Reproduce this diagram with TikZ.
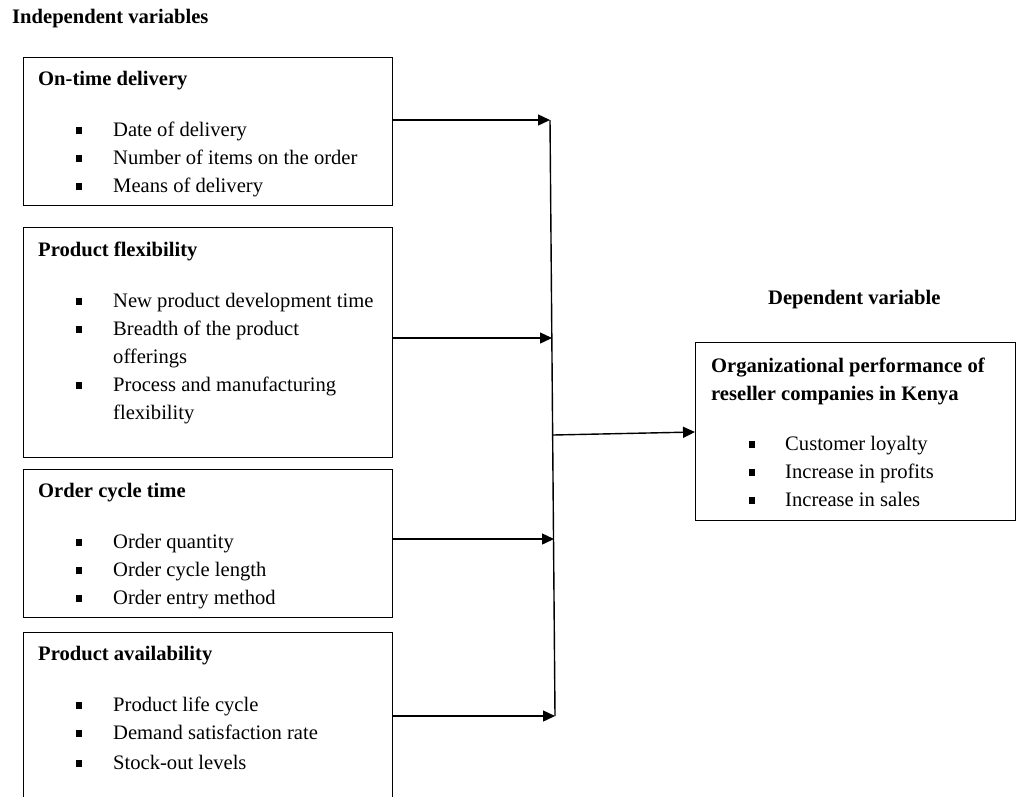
\documentclass[tikz,border=0pt]{standalone}
\usepackage{fontspec}
\setmainfont{Liberation Serif}
\usetikzlibrary{arrows.meta}
\newcommand{\bulsq}{\raisebox{2pt}{\rule{6pt}{7pt}}}
\begin{document}
\begin{tikzpicture}[x=1pt,y=-1pt,
  box/.style={draw, line width=1.3pt, anchor=north west, inner sep=0pt},
  txt/.style={anchor=base west, inner sep=0pt, font=\fontsize{20.6}{28}\selectfont},
  head/.style={txt, font=\fontsize{20.6}{28}\selectfont\bfseries},
  conn/.style={line width=1.4pt, -{Triangle[length=12pt,width=11pt]}},
  vline/.style={line width=1.4pt}]
\useasboundingbox (0,0) rectangle (1016,796);
\clip (0,0) rectangle (1016,796);
\fill[white] (0,0) rectangle (1016,796);

% headings
\node[head] (indep) at (12,23) {Independent variables};
\node[head] (dep) at (768,304) {Dependent variable};

% boxes
\node[box, minimum width=369pt, minimum height=148pt] (b1) at (23,57) {};
\node[box, minimum width=369pt, minimum height=230pt] (b2) at (23,227) {};
\node[box, minimum width=369pt, minimum height=148pt] (b3) at (23,469) {};
\node[box, minimum width=369pt, minimum height=200pt] (b4) at (23,632) {};
\node[box, minimum width=320pt, minimum height=178pt] (d1) at (695,342) {};

% box 1
\node[head] (t1) at (38,85) {On-time delivery};
\node[txt] (l1) at (76,136) {\begin{tabular}[t]{@{}p{37pt}@{}l@{}}
\bulsq & Date of delivery\\
\bulsq & Number of items on the order\\
\bulsq & Means of delivery
\end{tabular}};

% box 2
\node[head] (t2) at (38,256) {Product flexibility};
\node[txt] (l2) at (76,307) {\begin{tabular}[t]{@{}p{37pt}@{}l@{}}
\bulsq & New product development time\\
\bulsq & Breadth of the product\\
 & offerings\\
\bulsq & Process and manufacturing\\
 & flexibility
\end{tabular}};

% box 3
\node[head] (t3) at (38,497) {Order cycle time};
\node[txt] (l3) at (76,548) {\begin{tabular}[t]{@{}p{37pt}@{}l@{}}
\bulsq & Order quantity\\
\bulsq & Order cycle length\\
\bulsq & Order entry method
\end{tabular}};

% box 4
\node[head] (t4) at (38,660) {Product availability};
\node[txt] (l4) at (76,711) {\begin{tabular}[t]{@{}p{37pt}@{}l@{}}
\bulsq & Product life cycle\\
\bulsq & Demand satisfaction rate\\[2pt]
\bulsq & Stock-out levels
\end{tabular}};

% dependent box
\node[head, anchor=base west] (td) at (711,372) {\begin{tabular}[t]{@{}l@{}}
Organizational performance of\\
reseller companies in Kenya
\end{tabular}};
\node[txt] (ld) at (749,450) {\begin{tabular}[t]{@{}p{36pt}@{}l@{}}
\bulsq & Customer loyalty\\
\bulsq & Increase in profits\\
\bulsq & Increase in sales
\end{tabular}};

% junction line
\coordinate (j1) at (550,120);
\coordinate (j2) at (552,338);
\coordinate (jo) at (553,435);
\coordinate (j3) at (554,539);
\coordinate (j4) at (555,716);
\draw[vline] (j1) -- (j4);

\draw[conn] (b1.east |- j1) -- (j1);
\draw[conn] (b2.east |- j2) -- (j2);
\draw[conn] (b3.east |- j3) -- (j3);
\draw[conn] (b4.east |- j4) -- (j4);
\draw[conn] (jo) -- (d1.west |- 0,432);
\end{tikzpicture}
\end{document}
